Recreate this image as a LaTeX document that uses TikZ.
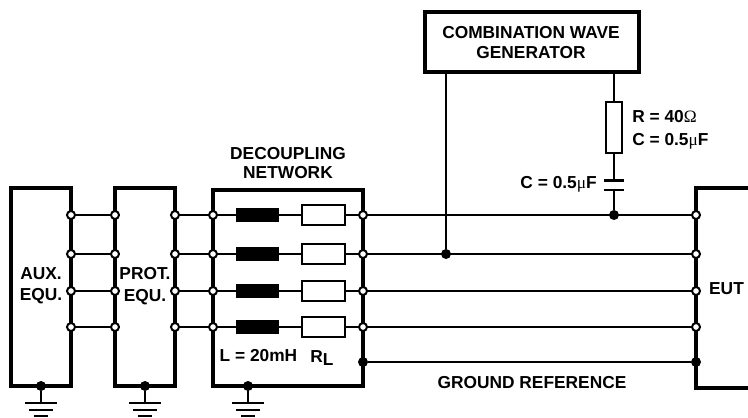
\documentclass[tikz,border=0pt]{standalone}
\usepackage{fontspec}
\setmainfont{Liberation Sans}
\newfontfamily\symfont{Liberation Serif}
\usepackage{tikz}
\usetikzlibrary{positioning}

\tikzset{
	box/.style={draw, line width=3pt, inner sep=0pt, outer sep=0pt},
	wire/.style={draw, line width=1.4pt},
	port/.style={draw, circle, fill=white, line width=1.5pt, inner sep=0pt, outer sep=0pt, minimum size=6pt},
	dot/.style={circle, fill=black, inner sep=0pt, outer sep=0pt, minimum size=7.5pt},
	choke/.style={fill=black, inner sep=0pt, outer sep=0pt, minimum width=32pt, minimum height=10.5pt},
	res/.style={draw, fill=white, line width=1.4pt, inner sep=0pt, outer sep=0pt, minimum width=32pt, minimum height=14.5pt},
	bar/.style={fill=black, inner sep=0pt, outer sep=0pt, minimum height=1.7pt},
	label/.style={inner sep=0pt, align=center, font=\bfseries\fontsize{13}{14.4}\selectfont}
}

\begin{document}
\begin{tikzpicture}[x=0.75pt, y=-0.75pt]
\useasboundingbox (0,0) rectangle (748,417);

% boxes
\node [box, minimum width=45pt, minimum height=148pt] (aux) at (41,287) {};
\node [box, minimum width=45pt, minimum height=148pt] (prot) at (145,287) {};
\node [box, minimum width=112pt, minimum height=147pt] (net) at (288,288) {};
\node [box, minimum width=160pt, minimum height=45pt] (cwg) at (532,42) {};

\coordinate (euttop) at (748,188);
\coordinate (eutbot) at (748,388);
\path [draw, line width=3pt] (euttop) -- (696,188) -- (696,388) -- (eutbot);

% ports
\node [port] (aux1) at (71,215) {};
\node [port] (aux2) at (71,254) {};
\node [port] (aux3) at (71,291) {};
\node [port] (aux4) at (71,327) {};
\node [port] (protl1) at (115,215) {};
\node [port] (protl2) at (115,254) {};
\node [port] (protl3) at (115,291) {};
\node [port] (protl4) at (115,327) {};
\node [port] (protr1) at (175,215) {};
\node [port] (protr2) at (175,254) {};
\node [port] (protr3) at (175,291) {};
\node [port] (protr4) at (175,327) {};
\node [port] (netl1) at (213,215) {};
\node [port] (netl2) at (213,254) {};
\node [port] (netl3) at (213,291) {};
\node [port] (netl4) at (213,327) {};
\node [port] (netr1) at (363,215) {};
\node [port] (netr2) at (363,254) {};
\node [port] (netr3) at (363,291) {};
\node [port] (netr4) at (363,327) {};
\node [port] (eut1) at (696,215) {};
\node [port] (eut2) at (696,254) {};
\node [port] (eut3) at (696,291) {};
\node [port] (eut4) at (696,327) {};

% chokes and resistors
\node [choke] (l1) at (257.5,215) {};
\node [choke] (l2) at (257.5,254) {};
\node [choke] (l3) at (257.5,291) {};
\node [choke] (l4) at (257.5,327) {};
\node [res] (r1) at (323.5,215) {};
\node [res] (r2) at (323.5,254) {};
\node [res] (r3) at (323.5,291) {};
\node [res] (r4) at (323.5,327) {};

\path [wire] (aux1) -- (protl1) (protr1) -- (netl1) -- (l1) -- (r1) -- (netr1) -- (eut1);
\path [wire] (aux2) -- (protl2) (protr2) -- (netl2) -- (l2) -- (r2) -- (netr2) -- (eut2);
\path [wire] (aux3) -- (protl3) (protr3) -- (netl3) -- (l3) -- (r3) -- (netr3) -- (eut3);
\path [wire] (aux4) -- (protl4) (protr4) -- (netl4) -- (l4) -- (r4) -- (netr4) -- (eut4);

% ground reference
\node [dot] (gndl) at (363,362) {};
\node [dot] (gndr) at (696,362) {};
\path [wire] (gndl) -- (gndr);

% generator branches
\node [dot] (tap) at (446,254) {};
\node [dot] (inj) at (614,215) {};
\node [res, minimum width=12pt, minimum height=38pt] (rc) at (614,127.5) {};
\node [bar, minimum width=15pt] (cap1) at (614,180.5) {};
\node [bar, minimum width=15pt, below=5.5pt of cap1] (cap2) {};

\path [wire] (cwg.south -| tap) -- (tap);
\path [wire] (cwg.south -| rc) -- (rc);
\path [wire] (rc) -- (cap1);
\path [wire] (cap2) -- (inj);

% earth symbols
\node [dot] (aux0) at (41,386) {};
\node [bar, minimum width=24pt] (auxa) at (41,403) {};
\node [bar, minimum width=18pt] (auxb) at (41,410) {};
\node [bar, minimum width=10pt] (auxc) at (41,416) {};
\node [dot] (prot0) at (145,386) {};
\node [bar, minimum width=24pt] (prota) at (145,403) {};
\node [bar, minimum width=18pt] (protb) at (145,410) {};
\node [bar, minimum width=10pt] (protc) at (145,416) {};
\node [dot] (net0) at (248,386) {};
\node [bar, minimum width=24pt] (neta) at (248,403) {};
\node [bar, minimum width=18pt] (netb) at (248,410) {};
\node [bar, minimum width=10pt] (netc) at (248,416) {};

\path [wire] (aux0) -- (auxa);
\path [wire] (prot0) -- (prota);
\path [wire] (net0) -- (neta);

% labels
\node [label] (cwgtext) at (531,42.5) {COMBINATION WAVE\\GENERATOR};
\node [label] (nettext) at (288,163) {DECOUPLING\\NETWORK};
\node [label, font=\bfseries\fontsize{13}{16}\selectfont] (auxtext) at (41,286) {AUX.\\EQU.};
\node [label, font=\bfseries\fontsize{13}{16}\selectfont] (prottext) at (145,286) {PROT.\\EQU.};
\node [label] (ltext) at (258.5,356) {L = 20mH};
\node [label] (rltext) at (322,358) {R\raisebox{-2.5pt}{L}};
\node [label] (gndtext) at (532,383) {GROUND REFERENCE};
\node [label] (euttext) at (726.5,289) {EUT};
\node [label, anchor=west] (rtext) at (632,117) {R = 40{\symfont\mdseries Ω}};
\node [label, anchor=west] (ctext) at (632,141) {C = 0.5{\symfont\mdseries μ}F};
\node [label, anchor=east] (cleft) at (597,184) {C = 0.5{\symfont\mdseries μ}F};

\end{tikzpicture}
\end{document}
